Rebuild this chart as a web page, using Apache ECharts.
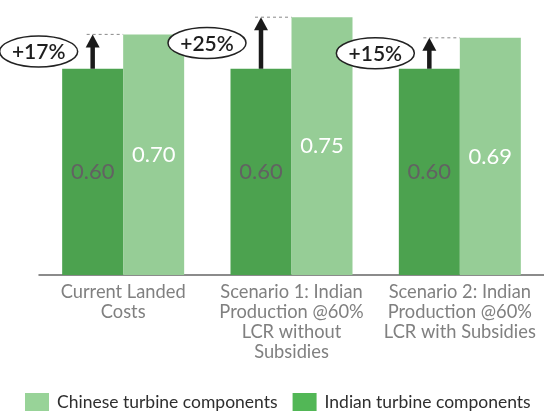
<!DOCTYPE html>
<html>
<head>
<meta charset="utf-8">
<script src="https://cdn.jsdelivr.net/npm/echarts@6/dist/echarts.min.js"></script>
<style>
  html, body { margin: 0; padding: 0; background: #fff; }
  #chart { width: 544px; height: 414px; }
</style>
</head>
<body>
<div id="chart"></div>
<script>
// Cost scenarios for turbine components
const categories = [
  'Current Landed\nCosts',
  'Scenario 1: Indian\nProduction @60%\nLCR without\nSubsidies',
  'Scenario 2: Indian\nProduction @60%\nLCR with Subsidies'
];
const indianValues = [0.60, 0.60, 0.60];
const chineseValues = [0.70, 0.75, 0.69];
const seriesNames = ['Indian turbine components', 'Chinese turbine components'];

const INDIAN_COLOR = '#4ca24f';
const CHINESE_COLOR = '#96cd96';
const BAR_WIDTH = 61;
const FONT = 'Lato, "Open Sans", sans-serif';

const chart = echarts.init(document.getElementById('chart'), null, { renderer: 'canvas' });

chart.setOption({
  animation: false,
  textStyle: { fontFamily: FONT },
  grid: { left: 39, width: 511, top: 0, bottom: 139, containLabel: false },
  legend: {
    data: [
      { name: seriesNames[1], itemStyle: { color: '#98d398' } },
      { name: seriesNames[0], itemStyle: { color: '#52b756' } }
    ],
    left: 20,
    top: 388,
    itemWidth: 24,
    itemHeight: 18,
    itemGap: 15,
    icon: 'rect',
    textStyle: { fontFamily: FONT, fontSize: 17.5, color: '#2e2e2e', padding: [0, 0, 0, 3] }
  },
  xAxis: {
    type: 'category',
    data: categories,
    axisLine: { lineStyle: { color: '#666', width: 1.5 } },
    axisTick: { show: false },
    axisLabel: {
      interval: 0,
      margin: 7,
      color: '#808080',
      fontFamily: FONT,
      fontSize: 18.3,
      lineHeight: 20
    }
  },
  yAxis: { type: 'value', min: 0, max: 0.8, show: false },
  series: [
    {
      name: seriesNames[0],
      type: 'bar',
      data: indianValues,
      barWidth: BAR_WIDTH,
      barGap: '0%',
      itemStyle: { color: INDIAN_COLOR },
      label: {
        show: true, position: 'inside', color: '#626262', fontSize: 22, fontFamily: FONT,
        formatter: p => p.value.toFixed(2)
      }
    },
    {
      name: seriesNames[1],
      type: 'bar',
      data: chineseValues,
      barWidth: BAR_WIDTH,
      barGap: '0%',
      itemStyle: { color: CHINESE_COLOR },
      label: {
        show: true, position: 'inside', color: '#fff', fontSize: 22, fontFamily: FONT,
        formatter: p => p.value.toFixed(2)
      }
    }
  ]
});

// Increase annotations: arrow from the Indian bar top to the Chinese level,
// dashed reference line and an oval with the percentage difference.
function drawAnnotations() {
  const elements = [];
  categories.forEach((c, i) => {
    const lowPt = chart.convertToPixel({ gridIndex: 0 }, [i, indianValues[i]]);
    const highPt = chart.convertToPixel({ gridIndex: 0 }, [i, chineseValues[i]]);
    const center = lowPt[0];
    const ax = center - BAR_WIDTH / 2;
    const yLow = lowPt[1];
    const yHigh = highPt[1];
    const pct = Math.round((chineseValues[i] - indianValues[i]) / indianValues[i] * 100);

    elements.push({
      type: 'line',
      shape: { x1: ax - 6, y1: yHigh, x2: center, y2: yHigh },
      style: { stroke: '#888', lineWidth: 1, lineDash: [3, 3] },
      z: 10
    });
    elements.push({
      type: 'line',
      shape: { x1: ax, y1: yLow, x2: ax, y2: yHigh + 10 },
      style: { stroke: '#1a1a1a', lineWidth: 4.5 },
      z: 11
    });
    elements.push({
      type: 'polygon',
      shape: { points: [[ax - 7, yHigh + 13], [ax + 7, yHigh + 13], [ax, yHigh]] },
      style: { fill: '#1a1a1a' },
      z: 11
    });
    const cx = ax - 54;
    const cy = (yLow + yHigh) / 2;
    elements.push({
      type: 'ellipse',
      shape: { cx: cx, cy: cy, rx: 39, ry: 15.5 },
      style: { fill: '#fff', stroke: '#222', lineWidth: 1.5 },
      z: 11
    });
    elements.push({
      type: 'text',
      x: cx, y: cy + 1,
      style: {
        text: '+' + pct + '%',
        fill: '#1e1e1e',
        fontSize: 21,
        fontWeight: 600,
        fontFamily: FONT,
        align: 'center',
        verticalAlign: 'middle'
      },
      z: 12
    });
  });
  chart.setOption({ graphic: elements });
}
drawAnnotations();
</script>
</body>
</html>
